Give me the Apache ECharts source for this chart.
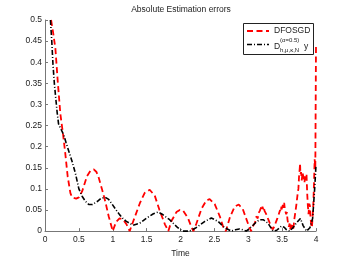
<!DOCTYPE html>
<html><head><meta charset="utf-8">
<script src="https://cdn.jsdelivr.net/npm/echarts@6/dist/echarts.min.js"></script>
<style>html,body{margin:0;padding:0;background:#fff}#c{width:349px;height:263px}</style>
</head><body><div id="c"></div>
<script>
const titleText = 'Absolute Estimation errors';
const xLabel = 'Time';
const legendNames = ['DFOSGD', 'D y'];
const xTicks = [0, 0.5, 1, 1.5, 2, 2.5, 3, 3.5, 4];
const yTicks = [0, 0.05, 0.1, 0.15, 0.2, 0.25, 0.3, 0.35, 0.4, 0.45, 0.5];

const redT = [0.09,0.12,0.153,0.188,0.227,0.266,0.30,0.335,0.375,0.40,0.424,0.46,0.50,0.55,0.62,0.67,0.72,0.76,0.79,0.84,0.89,0.94,1.0,1.05,1.1,1.15,1.2,1.25,1.32,1.4,1.47,1.545,1.62,1.69,1.77,1.82,1.87,1.94,1.99,2.04,2.11,2.16,2.19,2.235,2.31,2.38,2.43,2.505,2.58,2.64,2.67,2.73,2.80,2.86,2.92,3.0,3.04,3.07,
3.10,3.12,3.14,3.15,3.17,3.18,3.19,3.2,3.21,3.22,3.23,3.24,3.25,3.26,3.27,3.28,3.29,3.30,3.31,3.32,3.33,3.34,3.35,3.36,3.37,3.38,3.39,3.40,3.41,3.42,3.43,3.44,3.45,3.46,3.47,3.48,3.49,3.50,3.51,3.52,3.53,3.54,3.55,3.56,3.57,3.58,3.59,3.60,3.61,3.62,3.63,3.64,3.65,3.66,3.67,3.68,3.69,3.70,3.71,3.72,3.73,3.74,3.75,3.76,3.765,3.77,3.78,3.79,3.80,3.81,3.82,3.83,3.84,3.85,3.86,3.87,3.88,3.89,3.90,3.91,3.92,3.93,3.94,3.95,3.96,3.97,3.98,3.99,4.0];
const redV = [0.5,0.47,0.433,0.355,0.277,0.23,0.183,0.129,0.09,0.08,0.078,0.077,0.08,0.095,0.130,0.143,0.146,0.14,0.128,0.1,0.07,0.035,0.0,0.022,0.03,0.028,0.017,0.0,0.031,0.066,0.09,0.098,0.084,0.05,0.016,0.0,0.025,0.045,0.05,0.048,0.031,0.01,0.0,0.018,0.053,0.072,0.076,0.064,0.035,0.005,0.0,0.033,0.058,0.063,0.052,0.016,0.0,0.012,
0.02,0.035,0.03,0.042,0.048,0.044,0.056,0.05,0.058,0.052,0.057,0.048,0.05,0.042,0.045,0.034,0.036,0.026,0.028,0.018,0.02,0.01,0.012,0.004,0.008,0.0,0.012,0.01,0.022,0.018,0.03,0.027,0.04,0.036,0.05,0.045,0.058,0.05,0.062,0.055,0.067,0.052,0.056,0.04,0.045,0.026,0.03,0.01,0.018,0.004,0.016,0.008,0.014,0.002,0.012,0.028,0.024,0.05,0.062,0.06,0.09,0.1,0.13,0.148,0.16,0.135,0.14,0.12,0.138,0.142,0.125,0.115,0.132,0.12,0.135,0.09,0.06,0.04,0.065,0.06,0.03,0.015,0.008,0.012,0.06,0.11,0.17,0.15,0.44];

const blackT = [0.08,0.1,0.118,0.138,0.158,0.18,0.2,0.24,0.276,0.31,0.35,0.4,0.45,0.5,0.55,0.6,0.645,0.7,0.77,0.83,0.89,0.94,0.99,1.05,1.1,1.15,1.2,1.3,1.4,1.5,1.6,1.67,1.73,1.84,1.96,2.03,2.13,2.23,2.36,2.455,2.555,2.65,2.75,2.81,2.87,2.92,2.97,3.06,3.12,3.17,3.22,3.29,3.365,3.42,3.49,3.53,3.56,3.61,3.66,3.71,3.77,3.81,3.86,3.91,3.95,3.98,4.0];
const blackV = [0.5,0.45,0.394,0.35,0.316,0.28,0.254,0.24,0.228,0.21,0.19,0.165,0.136,0.1,0.082,0.07,0.063,0.063,0.07,0.078,0.08,0.075,0.064,0.05,0.039,0.03,0.023,0.014,0.019,0.031,0.041,0.045,0.04,0.027,0.008,0.0,0.0,0.008,0.023,0.031,0.023,0.008,0.0,0.003,0.005,0.003,0.0,0.012,0.022,0.027,0.027,0.019,0.0,0.002,0.012,0.009,0.004,0.0,0.008,0.019,0.03,0.013,0.0,0.008,0.03,0.1,0.156];

const FONT = 'Liberation Sans, Arial, Helvetica, sans-serif';
const chart = echarts.init(document.getElementById('c'), null, {renderer: 'canvas'});
const pair = (ts, vs) => ts.map((t, i) => [t, vs[i]]);

const lx = 243, ly = 23;
chart.setOption({
  animation: false,
  backgroundColor: '#fff',
  title: {text: titleText, left: 181, top: 5, padding: 0, textAlign: 'center',
    textStyle: {fontFamily: FONT, fontSize: 8.5, fontWeight: 'normal', color: '#222'}},
  grid: {left: 45, right: 33, top: 20, bottom: 30, containLabel: false},
  xAxis: {type: 'value', min: xTicks[0], max: xTicks[xTicks.length-1], interval: 0.5,
    name: xLabel, nameLocation: 'middle', nameGap: 14,
    nameTextStyle: {fontFamily: FONT, fontSize: 8.5, color: '#222'},
    axisLine: {lineStyle: {color: '#777', width: 1}},
    axisTick: {inside: true, length: 3, lineStyle: {color: '#777'}},
    axisLabel: {fontFamily: FONT, fontSize: 8.5, color: '#222', margin: 4},
    splitLine: {show: false}},
  yAxis: {type: 'value', min: yTicks[0], max: yTicks[yTicks.length-1], interval: 0.05,
    axisLine: {show: true, lineStyle: {color: '#777', width: 1}},
    axisTick: {show: true, inside: true, length: 3, lineStyle: {color: '#777'}},
    axisLabel: {fontFamily: FONT, fontSize: 8.5, color: '#222', margin: 3},
    splitLine: {show: false}},
  series: [
    {name: legendNames[0], type: 'line', data: pair(redT, redV), showSymbol: false, symbol: 'none', clip: true,
      lineStyle: {color: '#ff0000', width: 1.8, type: [6, 3.5]}},
    {name: legendNames[1], type: 'line', data: pair(blackT, blackV), showSymbol: false, symbol: 'none', clip: true,
      lineStyle: {color: '#000', width: 1.6, type: [5, 2, 1, 2]}}
  ],
  graphic: [
    {type: 'rect', z: 100, shape: {x: lx + 0.5, y: ly + 0.5, width: 70, height: 31},
      style: {fill: '#fff', stroke: '#222', lineWidth: 1}},
    {type: 'line', z: 101, shape: {x1: lx + 4, y1: ly + 8, x2: lx + 26, y2: ly + 8},
      style: {stroke: '#ff0000', lineWidth: 1.8, lineDash: [6, 3.5]}},
    {type: 'text', z: 101, x: lx + 31, y: ly + 8,
      style: {text: 'DFOSGD', fontFamily: FONT, fontSize: 8.5, fill: '#222', verticalAlign: 'middle'}},
    {type: 'line', z: 101, shape: {x1: lx + 4, y1: ly + 21.5, x2: lx + 26, y2: ly + 21.5},
      style: {stroke: '#000', lineWidth: 1.6, lineDash: [5, 2, 1, 2]}},
    {type: 'text', z: 101, x: lx + 31, y: ly + 24,
      style: {text: 'D', fontFamily: FONT, fontSize: 8.5, fill: '#222', verticalAlign: 'middle'}},
    {type: 'text', z: 101, x: lx + 37, y: ly + 17,
      style: {text: '(α=0.5)', fontFamily: FONT, fontSize: 6, fill: '#222', verticalAlign: 'middle'}},
    {type: 'text', z: 101, x: lx + 37, y: ly + 27.5,
      style: {text: 'h,μ,κ,N', fontFamily: FONT, fontSize: 6, fill: '#222', verticalAlign: 'middle'}},
    {type: 'text', z: 101, x: lx + 61, y: ly + 24,
      style: {text: 'y', fontFamily: FONT, fontSize: 8.5, fill: '#222', verticalAlign: 'middle'}}
  ]
});
</script></body></html>
